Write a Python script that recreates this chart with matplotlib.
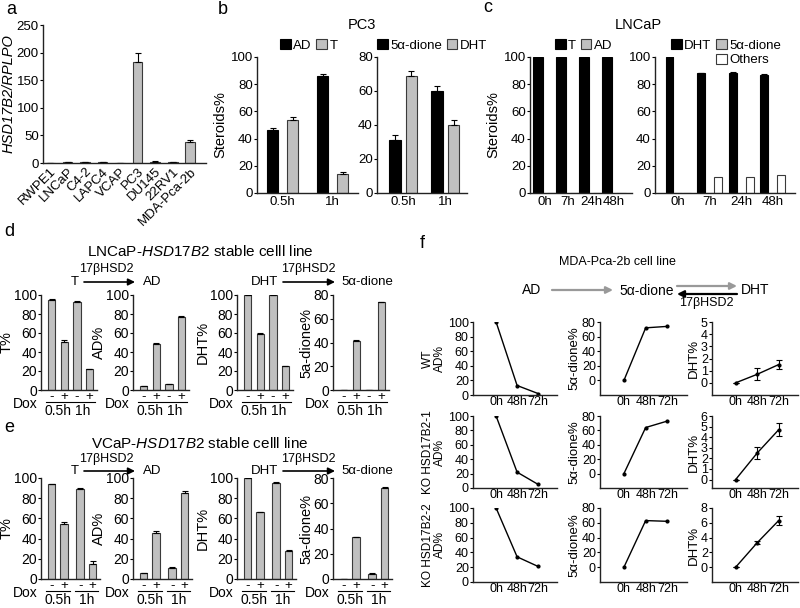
import numpy as np
import matplotlib
matplotlib.use('Agg')
import matplotlib.pyplot as plt
from matplotlib.patches import Patch

plt.rcParams['font.family'] = ['Liberation Sans', 'DejaVu Sans']
plt.rcParams['mathtext.fontset'] = 'custom'
plt.rcParams['mathtext.rm'] = 'Liberation Sans'
plt.rcParams['mathtext.it'] = 'Liberation Sans:italic'

# ---------------- data ----------------
a_cells = ['RWPE1', 'LNCaP', 'C4-2', 'LAPC4', 'VCAP', 'PC3', 'DU145', '22RV1', 'MDA-Pca-2b']
a_vals = [0.5, 1.0, 1.0, 1.0, 0.5, 183, 2.0, 1.0, 38]
a_err = [0.2, 0.3, 0.2, 0.3, 0.2, 17, 0.8, 0.3, 3]

b_times = ['0.5h', '1h']
b_AD = [46, 86]
b_AD_err = [2, 1.5]
b_T = [54, 14]
b_T_err = [2, 1.5]
b_dione = [31, 60]
b_dione_err = [3, 3]
b_DHT = [69, 40]
b_DHT_err = [2.5, 3]

c_times = ['0h', '7h', '24h', '48h']
c_T = [100, 100, 100, 100]
c_AD = [0, 0, 0, 0]
c_DHT = [100, 88, 88.5, 87]
c_dione = [0, 0, 0, 0]
c_others = [0, 12, 12, 13]

de_times = ['0.5h', '1h']
dox_signs = ['-', '+', '-', '+']
d_T = [95, 51, 93, 22]
d_T_err = [0.8, 1.5, 0.8, 0.5]
d_AD = [4, 48, 6, 77]
d_AD_err = [0.4, 1.5, 0.5, 0.5]
d_DHT = [100, 59, 100, 25]
d_DHT_err = [0.3, 1.5, 0.3, 0.5]
d_dione = [0, 41, 0, 74]
d_dione_err = [0, 1.5, 0, 0.5]

e_T = [94, 54, 89, 15]
e_T_err = [0.5, 2, 1, 2.5]
e_AD = [6, 46, 11, 85]
e_AD_err = [0.3, 2, 1, 2]
e_DHT = [100, 66, 95, 28]
e_DHT_err = [0.2, 0.3, 1, 0.5]
e_dione = [0, 33, 4, 72]
e_dione_err = [0, 0.3, 1, 0.5]

f_times = ['0h', '48h', '72h']
f_rows = ['WT', 'KO HSD17B2-1', 'KO HSD17B2-2']
f_AD_wt = [100, 13, 2]
f_AD_ko1 = [100, 22, 5]
f_AD_ko2 = [100, 34, 21]
f_dione_wt = [0, 72, 74]
f_dione_ko1 = [0, 64, 73]
f_dione_ko2 = [0, 63, 62]
f_DHT_wt = [0, 0.7, 1.5]
f_DHT_wt_err = [0, 0.5, 0.35]
f_DHT_ko1 = [0, 2.5, 4.7]
f_DHT_ko1_err = [0, 0.55, 0.6]
f_DHT_ko2 = [0, 3.3, 6.3]
f_DHT_ko2_err = [0, 0.2, 0.6]

# ---------------- layout helpers ----------------
W, H = 800, 608
fig = plt.figure(figsize=(W / 100, H / 100), dpi=100)
bg = fig.add_axes([0, 0, 1, 1])
bg.axis('off')
bg.set_xlim(0, W)
bg.set_ylim(H, 0)

GRAY = '#c0c0c0'
EDGE = '#3a3a3a'
EK = dict(capsize=2, elinewidth=0.8, capthick=0.8, ecolor='k')


def axp(l, t, r, b):
    ax = fig.add_axes([l / W, 1 - b / H, (r - l) / W, (b - t) / H])
    ax._hpx = b - t
    ax._wpx = r - l
    for s in ['top', 'right']:
        ax.spines[s].set_visible(False)
    for s in ['left', 'bottom']:
        ax.spines[s].set_linewidth(1.0)
        ax.spines[s].set_color('#222222')
    ax.tick_params(axis='y', length=2, width=0.8, pad=1, labelsize=9.5)
    ax.tick_params(axis='x', length=0, pad=2, labelsize=9.5)
    ax.patch.set_alpha(0)
    return ax


def txt(x, y, s, **kw):
    kw.setdefault('ha', 'center')
    kw.setdefault('va', 'center')
    bg.text(x, y, s, **kw)


def arrow(x0, x1, y, color='k', lw=1.2):
    bg.annotate('', xy=(x1, y), xytext=(x0, y),
                arrowprops=dict(arrowstyle='-|>', color=color, lw=lw,
                                mutation_scale=10, shrinkA=0, shrinkB=0))


def up(err):
    return [np.zeros(len(err)), err]


# ---------------- panel a ----------------
txt(6, 9, 'a', fontsize=13, ha='left')
ax = axp(43, 25, 206, 163)
xa = np.arange(len(a_cells))
ax.bar(xa, a_vals, 0.55, color=GRAY, edgecolor=EDGE, lw=0.8, yerr=up(a_err), error_kw=EK)
ax.set_xlim(-0.4, 8.9)
ax.set_ylim(0, 250)
ax.set_yticks(range(0, 251, 50))
ax.set_xticks(xa)
ax.set_xticklabels(a_cells, rotation=45, ha='right', rotation_mode='anchor', fontsize=9.5)
ax.set_ylabel('HSD17B2/RPLPO', style='italic', fontsize=10.5, labelpad=1)

# ---------------- panel b ----------------
txt(218, 9, 'b', fontsize=13, ha='left')
txt(362, 25, 'PC3', fontsize=10.5)
xb = np.arange(len(b_times))
axb1 = axp(257, 57, 358, 193)
axb1.bar(xb - 0.2, b_AD, 0.23, color='k', edgecolor='k', lw=0.8, yerr=up(b_AD_err), error_kw=EK)
axb1.bar(xb + 0.2, b_T, 0.23, color=GRAY, edgecolor=EDGE, lw=0.8, yerr=up(b_T_err), error_kw=EK)
axb1.set_xlim(-0.51, 1.51)
axb1.set_ylim(0, 100)
axb1.set_yticks(range(0, 101, 20))
axb1.set_xticks(xb)
axb1.set_xticklabels(b_times)
axb1.set_ylabel('Steroids%', fontsize=10.5, labelpad=2)

axb2 = axp(377, 57, 467, 193)
axb2.bar(xb - 0.2, b_dione, 0.28, color='k', edgecolor='k', lw=0.8, yerr=up(b_dione_err), error_kw=EK)
axb2.bar(xb + 0.2, b_DHT, 0.28, color=GRAY, edgecolor=EDGE, lw=0.8, yerr=up(b_DHT_err), error_kw=EK)
axb2.set_xlim(-0.62, 1.52)
axb2.set_ylim(0, 80)
axb2.set_yticks(range(0, 81, 20))
axb2.set_xticks(xb)
axb2.set_xticklabels(b_times)

hk = Patch(facecolor='k', edgecolor='k', lw=0.8)
hg = Patch(facecolor=GRAY, edgecolor=EDGE, lw=0.8)
hw = Patch(facecolor='white', edgecolor=EDGE, lw=0.8)
hn = Patch(facecolor='none', edgecolor='none')
LK = dict(frameon=False, handlelength=0.8, handleheight=0.8, handletextpad=0.2,
          columnspacing=0.35, fontsize=9.5, borderpad=0, borderaxespad=0, labelspacing=0.15,
          loc='upper left', bbox_transform=fig.transFigure)
fig.legend([hk, hg], ['AD', 'T'], ncol=2, bbox_to_anchor=(280 / W, 1 - 39 / H), **LK)
fig.legend([hk, hg], ['5\u03b1-dione', 'DHT'], ncol=2, bbox_to_anchor=(377 / W, 1 - 39 / H), **LK)

# ---------------- panel c ----------------
txt(483, 8, 'c', fontsize=13, ha='left')
txt(638, 25, 'LNCaP', fontsize=10.5)
xc = np.arange(len(c_times))
axc1 = axp(530, 57, 632, 193)
axc1.bar(xc - 0.3, c_T, 0.45, color='k', edgecolor='k', lw=0.8, yerr=up([0.3] * 4), error_kw=EK)
axc1.bar(xc + 0.3, c_AD, 0.45, color=GRAY, edgecolor=EDGE, lw=0.8)
axc1.set_xlim(-0.65, 3.78)
axc1.set_ylim(0, 100)
axc1.set_yticks(range(0, 101, 20))
axc1.set_xticks(xc)
axc1.set_xticklabels(c_times)
axc1.set_ylabel('Steroids%', fontsize=10.5, labelpad=2)

axc2 = axp(655, 57, 795, 193)
axc2.bar(xc - 0.27, c_DHT, 0.25, color='k', edgecolor='k', lw=0.8, yerr=up([0.3] * 4), error_kw=EK)
axc2.bar(xc, c_dione, 0.25, color=GRAY, edgecolor=EDGE, lw=0.8)
axc2.bar(xc + 0.27, c_others, 0.25, color='white', edgecolor=EDGE, lw=0.8)
axc2.set_xlim(-0.73, 3.7)
axc2.set_ylim(0, 100)
axc2.set_yticks(range(0, 101, 20))
axc2.set_xticks(xc)
axc2.set_xticklabels(c_times)

fig.legend([hk, hg], ['T', 'AD'], ncol=2, bbox_to_anchor=(555 / W, 1 - 39 / H), **LK)
fig.legend([hk, hn, hg, hw], ['DHT', '', '5\u03b1-dione', 'Others'], ncol=2,
           bbox_to_anchor=(671 / W, 1 - 39 / H), **LK)


# ---------------- panels d & e ----------------
def dox_panel(l, t, r, b, vals, errs, ylim, yticks, ylabel, pos):
    ax = axp(l, t, r, b)
    ax.tick_params(axis='y', labelsize=10)
    ax.bar(pos, vals, 0.6, color=GRAY, edgecolor=EDGE, lw=0.8, yerr=up(errs), error_kw=EK)
    ax.set_xlim(-0.85, pos[-1] + 0.6)
    ax.set_ylim(*ylim)
    ax.set_yticks(yticks)
    ax.set_xticks([])
    ax.set_ylabel(ylabel, fontsize=10.5, labelpad=0)
    h = ax._hpx
    tr = ax.get_xaxis_transform()
    for p, s in zip(pos, dox_signs):
        ax.text(p, -7 / h, s, transform=tr, ha='center', va='center', fontsize=9.5)
    for i in (0, 2):
        ax.plot([pos[i] - 0.45, pos[i + 1] + 0.45], [-12 / h] * 2, transform=tr,
                color='k', lw=0.8, clip_on=False)
    for i, lab in zip((0, 2), de_times):
        ax.text((pos[i] + pos[i + 1]) / 2, -21 / h, lab, transform=tr,
                ha='center', va='center', fontsize=10)
    ax.text(-3 / ax._wpx, -14 / h, 'Dox', transform=ax.transAxes, ha='right', va='center', fontsize=10)
    return ax


def pathway(y_title, y_enz, y_row, title):
    txt(200, y_title, title, fontsize=11)
    txt(75, y_row, 'T', fontsize=9.5)
    arrow(84, 135, y_row)
    txt(106, y_enz, '17\u03b2HSD2', fontsize=9)
    txt(152, y_row, 'AD', fontsize=9.5)
    txt(264, y_row, 'DHT', fontsize=9.5)
    arrow(283, 335, y_row)
    txt(308, y_enz, '17\u03b2HSD2', fontsize=9)
    txt(367, y_row, '5\u03b1-dione', fontsize=9.5)


pos_d = np.array([0, 1, 2, 3], dtype=float)
pos_e = np.array([0, 1, 2.3, 3.3])

txt(4, 232, 'd', fontsize=13, ha='left')
pathway(252, 269, 282, 'LNCaP-$\\mathit{HSD17B2}$ stable celll line')
dox_panel(41, 295, 97, 390, d_T, d_T_err, (0, 100), range(0, 101, 20), 'T%', pos_d)
dox_panel(133, 295, 189, 390, d_AD, d_AD_err, (0, 100), range(0, 101, 20), 'AD%', pos_d)
dox_panel(237, 295, 293, 390, d_DHT, d_DHT_err, (0, 100), range(0, 101, 20), 'DHT%', pos_d)
dox_panel(333, 295, 389, 390, d_dione, d_dione_err, (0, 80), range(0, 81, 20), '5a-dione%', pos_d)

txt(4, 428, 'e', fontsize=13, ha='left')
pathway(444, 459, 471, 'VCaP-$\\mathit{HSD17B2}$ stable celll line')
dox_panel(41, 478, 100, 579, e_T, e_T_err, (0, 100), range(0, 101, 20), 'T%', pos_e)
dox_panel(133, 478, 192, 579, e_AD, e_AD_err, (0, 100), range(0, 101, 20), 'AD%', pos_e)
dox_panel(237, 478, 296, 579, e_DHT, e_DHT_err, (0, 100), range(0, 101, 20), 'DHT%', pos_e)
dox_panel(333, 478, 392, 579, e_dione, e_dione_err, (0, 80), range(0, 81, 20), '5a-dione%', pos_e)

# ---------------- panel f ----------------
txt(420, 243, 'f', fontsize=13, ha='left')
txt(617, 262, 'MDA-Pca-2b cell line', fontsize=9)
txt(532, 290, 'AD', fontsize=10)
arrow(552, 613, 290, color='#999999', lw=1.6)
txt(647, 291, '5\u03b1-dione', fontsize=10)
arrow(677, 737, 286, color='#999999', lw=1.6)
arrow(737, 677, 294, color='k', lw=1.6)
txt(755, 290, 'DHT', fontsize=10)
txt(706, 303, '17\u03b2HSD2', fontsize=9)

xf = np.arange(len(f_times))


def f_panel(l, t, r, b, vals, errs, ylim, yticks, ylabel, lsize=9.5):
    ax = axp(l, t, r, b)
    ax.tick_params(axis='both', labelsize=9)
    ax.tick_params(axis='x', pad=1)
    if errs is None:
        ax.plot(xf, vals, color='k', lw=1, marker='o', ms=2)
    else:
        ax.errorbar(xf, vals, yerr=errs, color='k', lw=1, marker='o', ms=2,
                    capsize=2, elinewidth=0.8, capthick=0.8)
    ax.set_xlim(-1.1, 2.9)
    ax.set_ylim(*ylim)
    ax.set_yticks(yticks)
    ax.set_xticks(xf)
    ax.set_xticklabels(f_times)
    ax.set_ylabel(ylabel, fontsize=lsize, labelpad=1, linespacing=1.0)
    return ax


rows_y = [(322, 395), (416, 488), (508, 582)]
AD_sets = [f_AD_wt, f_AD_ko1, f_AD_ko2]
dione_sets = [f_dione_wt, f_dione_ko1, f_dione_ko2]
DHT_sets = [(f_DHT_wt, f_DHT_wt_err, (-1, 5), range(0, 6)),
            (f_DHT_ko1, f_DHT_ko1_err, (-0.8, 6), range(0, 7)),
            (f_DHT_ko2, f_DHT_ko2_err, (-2, 8), range(0, 9, 2))]
for (t, b), rl, adv, dv, (hv, he, hl, ht) in zip(rows_y, f_rows, AD_sets, dione_sets, DHT_sets):
    f_panel(473, t, 557, b, adv, None, (0, 100), range(0, 101, 20), rl + '\nAD%', lsize=8.6)
    f_panel(600, t, 687, b, dv, None, (-20, 80), range(0, 81, 20), '5\u03b1-dione%')
    f_panel(712, t, 798, b, hv, he, hl, ht, 'DHT%')

fig.savefig('out.png', dpi=100)
